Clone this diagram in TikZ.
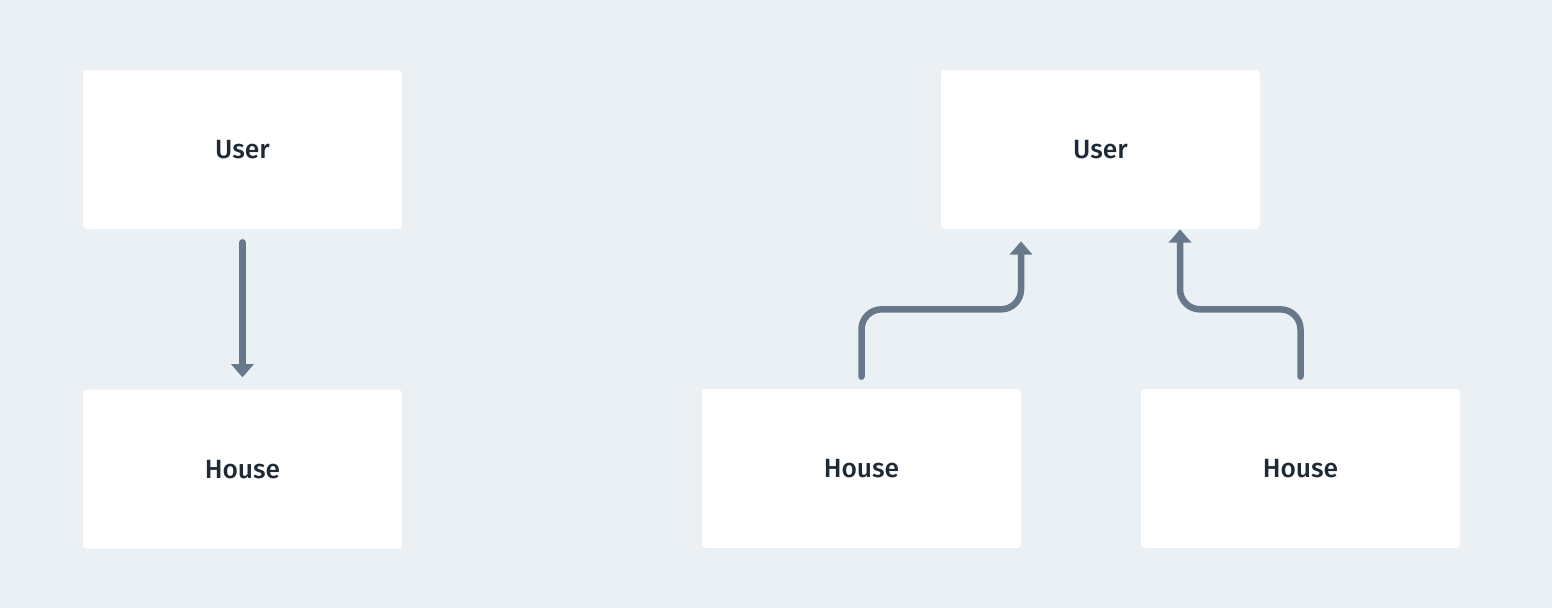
\documentclass[tikz,border=0pt]{standalone}
\usepackage{fontspec}
\setmainfont{Fira Sans}[BoldFont={* Medium}]
\usepackage{xcolor}
\usepackage{tikz}
\usetikzlibrary{
  calc,
  positioning,
  arrows.meta
}
\definecolor{bgcol}{HTML}{EBF0F4}
\definecolor{linkcol}{HTML}{66788A}
\definecolor{txtcol}{HTML}{1F2A37}

\begin{document}
\begin{tikzpicture}[> ={Triangle[width=12.5pt,length=7.5pt]}]
  \tikzset{
    entity/.style={
      fill=white, rounded corners=2pt,
      minimum width=6.38cm, minimum height=3.18cm,
      font=\fontsize{15}{18}\selectfont\bfseries, text=txtcol
    },
    link/.style={
      ->, draw=linkcol, line width=3.7pt, line cap=round,
      rounded corners=0.4cm
    },
  }
  \fill[bgcol] (0,0) rectangle (31.04,-12.16);

  \node[entity] (user a) at (4.85,-2.99) {User};
  \node[entity,below=3.2cm of user a] (house a) {House};

  \node[entity] (user b) at (22.01,-2.99) {User};
  \node[entity] (house b) at (17.23,-9.37) {House};
  \node[entity] (house c) at (26.01,-9.37) {House};

  \coordinate (bend b) at ($(user b.south)+(-1.59,-1.6)$);
  \coordinate (bend c) at ($(user b.south)+(1.59,-1.6)$);

  \draw[link] ($(user a.south)+(0,-0.26)$) -- ($(house a.north)+(0,0.24)$);

  \draw[link] ($(house b.north)+(0,0.24)$) |- (bend b)
    -- ($(user b.south)+(-1.59,-0.24)$);
  \draw[link] ($(house c.north)+(0,0.24)$) |- (bend c)
    -- ($(user b.south)+(1.59,0)$);
\end{tikzpicture}
\end{document}
